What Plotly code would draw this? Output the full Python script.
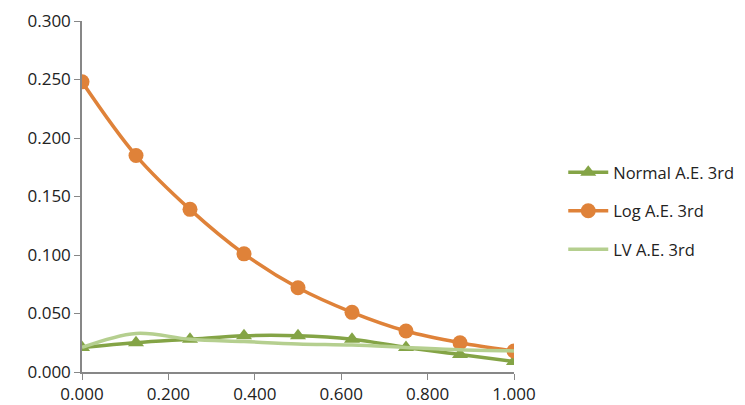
import plotly.graph_objects as go

x_vals = [0.0, 0.125, 0.25, 0.375, 0.5, 0.625, 0.75, 0.875, 1.0]
normal_ae = [0.021, 0.025, 0.028, 0.031, 0.031, 0.028, 0.021, 0.015, 0.009]
log_ae = [0.248, 0.185, 0.139, 0.101, 0.072, 0.051, 0.035, 0.025, 0.018]
lv_ae = [0.021, 0.033, 0.028, 0.026, 0.024, 0.023, 0.021, 0.019, 0.018]
y_ticks = [0.0, 0.05, 0.1, 0.15, 0.2, 0.25, 0.3]
x_ticks = [0.0, 0.2, 0.4, 0.6, 0.8, 1.0]

c_normal = "#84A446"
c_log = "#DF8239"
c_lv = "#B5CF8F"

fig = go.Figure()
fig.add_trace(go.Scatter(x=x_vals, y=normal_ae, name="Normal A.E. 3rd", mode="lines+markers",
                         line=dict(color=c_normal, width=3.5, shape="spline"),
                         marker=dict(symbol="triangle-up", size=14, color=c_normal),
                         legendgroup="a"))
fig.add_trace(go.Scatter(x=x_vals, y=log_ae, name="Log A.E. 3rd", mode="lines+markers",
                         line=dict(color=c_log, width=3.5, shape="spline"),
                         marker=dict(symbol="circle", size=15, color=c_log),
                         legendgroup="b"))
fig.add_trace(go.Scatter(x=x_vals, y=lv_ae, name="LV A.E. 3rd", mode="lines",
                         line=dict(color=c_lv, width=3.5, shape="spline"),
                         legendgroup="c"))

axis_font = dict(family="Open Sans, Noto Sans, Arial", size=17, color="#222222")
fig.update_layout(
    width=745, height=405,
    margin=dict(l=74, r=239, t=13, b=41, autoexpand=False),
    paper_bgcolor="white", plot_bgcolor="white",
    showlegend=True,
    legend=dict(x=1.114, y=0.618, xanchor="left", yanchor="top",
                font=dict(family="Open Sans, Noto Sans, Arial", size=16.5, color="#222222"),
                traceorder="grouped", tracegroupgap=14, itemwidth=40),
    xaxis=dict(range=[0, 1], tickvals=x_ticks, tickformat=".3f", showgrid=False,
               showline=True, linecolor="#878787", linewidth=1.5, ticks="outside",
               ticklen=6, tickcolor="#878787", tickfont=axis_font, zeroline=False,
               automargin=False),
    yaxis=dict(range=[0, 0.3], tickvals=y_ticks, tickformat=".3f", showgrid=False,
               showline=True, linecolor="#878787", linewidth=1.5, ticks="outside",
               ticklen=6, tickcolor="#878787", tickfont=axis_font, zeroline=False,
               automargin=False),
)
fig.write_html("out.html")
